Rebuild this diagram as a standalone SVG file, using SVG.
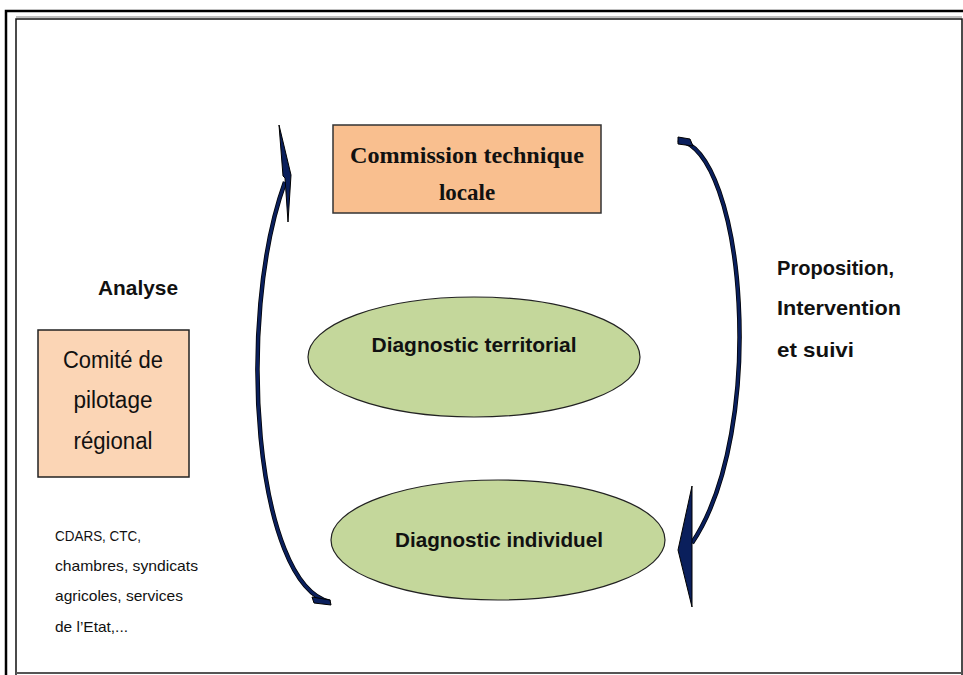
<svg xmlns="http://www.w3.org/2000/svg" width="963" height="675" viewBox="0 0 963 675">
<style>
.sans{font-family:"Liberation Sans","Noto Sans",sans-serif;fill:#111}
.b{font-weight:bold}
.arrow{fill:#0a1f5c;stroke:#000;stroke-width:1}
.shaft{fill:none;stroke:#0a1f5c;stroke-width:3}
.shaftedge{fill:none;stroke:#000;stroke-width:4.5}
</style>
<rect width="963" height="675" fill="#fff"/>
<g id="frame">
<polyline points="6,675 6,11 963,11" fill="none" stroke="#000" stroke-width="2.5"/>
<line x1="16" y1="17" x2="962" y2="17" stroke="#aaa" stroke-width="1.5"/>
<polyline points="16,675 16,19 962,19 962,675" fill="none" stroke="#111" stroke-width="1.5"/>
<line x1="16" y1="673" x2="962" y2="673" stroke="#555" stroke-width="2"/>
</g>
<g id="connectors">
<path class="shaftedge" d="M330,602 C255,585 235,320 285,182"/>
<path class="shaft" d="M330,602 C255,585 235,320 285,182"/>
<path d="M330,600 L312,597 L314,603 L331,605 Z" fill="#0a1f5c" stroke="#000" stroke-width="1"/>
<polygon class="arrow" points="279,125 291,175 288,222 285,178 283,176"/>
<path class="shaftedge" d="M678,140 C745,150 768,430 692,543"/>
<path class="shaft" d="M678,140 C745,150 768,430 692,543"/>
<path d="M678,137 L690,139 L693,146 L678,144 Z" fill="#0a1f5c" stroke="#000" stroke-width="1"/>
<polygon class="arrow" points="692,486 692,607 678,550"/>
</g>
<g id="commission">
<rect x="333" y="125" width="268" height="88" fill="#f9bf8f" stroke="#333" stroke-width="1.5"/>
<text x="467" y="163" text-anchor="middle" font-family="Liberation Serif,serif" font-weight="bold" font-size="23" fill="#111" textLength="234" lengthAdjust="spacingAndGlyphs">Commission technique</text>
<text x="467" y="200" text-anchor="middle" font-family="Liberation Serif,serif" font-weight="bold" font-size="23" fill="#111">locale</text>
</g>
<g id="territorial">
<ellipse cx="474" cy="357" rx="166" ry="60" fill="#c4d79b" stroke="#222" stroke-width="1.2"/>
<text class="sans b" x="474" y="352" text-anchor="middle" font-size="21" textLength="205" lengthAdjust="spacingAndGlyphs">Diagnostic territorial</text>
</g>
<g id="individuel">
<ellipse cx="498" cy="540" rx="167" ry="60" fill="#c4d79b" stroke="#222" stroke-width="1.2"/>
<text class="sans b" x="499" y="547" text-anchor="middle" font-size="21" textLength="208" lengthAdjust="spacingAndGlyphs">Diagnostic individuel</text>
</g>
<g id="comite">
<rect x="38" y="330" width="151" height="147" fill="#fbd5b5" stroke="#222" stroke-width="1.5"/>
<text class="sans" x="113" y="368" text-anchor="middle" font-size="23" textLength="100" lengthAdjust="spacingAndGlyphs">Comité de</text>
<text class="sans" x="113" y="408" text-anchor="middle" font-size="23" textLength="79" lengthAdjust="spacingAndGlyphs">pilotage</text>
<text class="sans" x="113" y="449" text-anchor="middle" font-size="23" textLength="79" lengthAdjust="spacingAndGlyphs">régional</text>
</g>
<g id="labels">
<text class="sans b" x="98" y="295" font-size="21" textLength="80" lengthAdjust="spacingAndGlyphs">Analyse</text>
<text class="sans b" x="777" y="275" font-size="21" textLength="117" lengthAdjust="spacingAndGlyphs">Proposition,</text>
<text class="sans b" x="777" y="315" font-size="21" textLength="124" lengthAdjust="spacingAndGlyphs">Intervention</text>
<text class="sans b" x="777" y="357" font-size="21" textLength="77" lengthAdjust="spacingAndGlyphs">et suivi</text>
</g>
<g id="members" class="sans" font-size="15">
<text x="55" y="541" textLength="86" lengthAdjust="spacingAndGlyphs">CDARS, CTC,</text>
<text x="55" y="571" textLength="143" lengthAdjust="spacingAndGlyphs">chambres, syndicats</text>
<text x="55" y="601" textLength="128" lengthAdjust="spacingAndGlyphs">agricoles, services</text>
<text x="55" y="632" textLength="73" lengthAdjust="spacingAndGlyphs">de l’Etat,...</text>
</g>
</svg>
